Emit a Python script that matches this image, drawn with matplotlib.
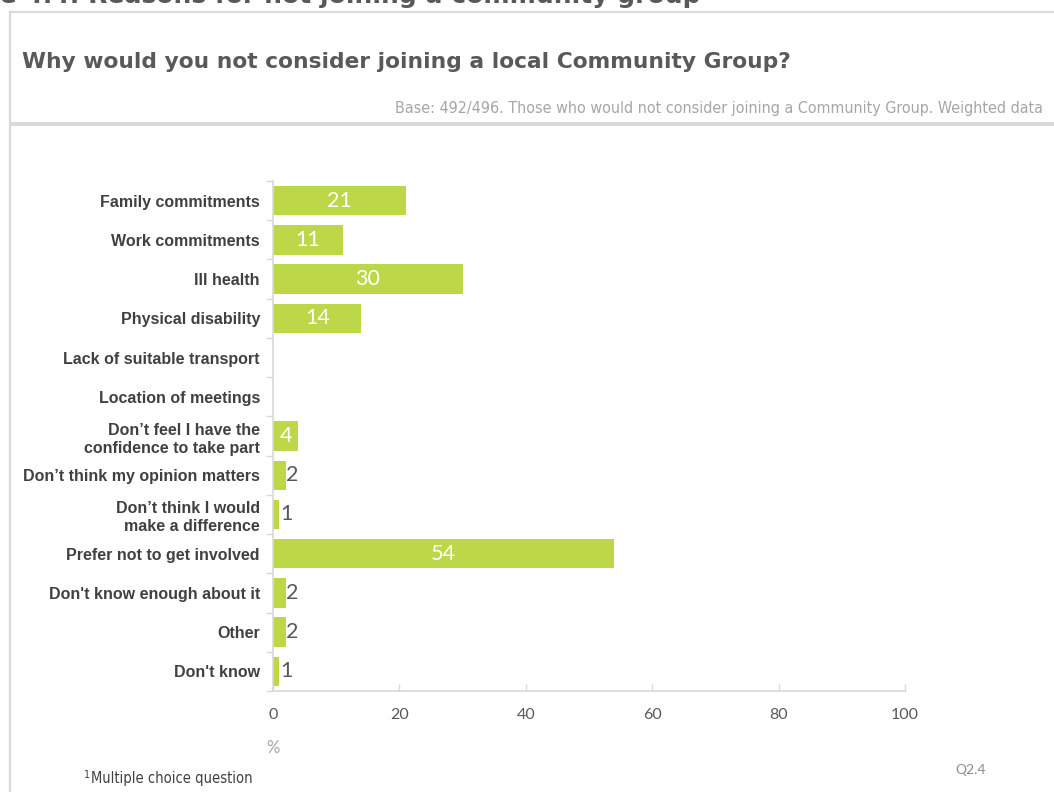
import matplotlib
matplotlib.use("Agg")
import matplotlib.pyplot as plt
from matplotlib.patches import Rectangle
from matplotlib.lines import Line2D

W, H = 1054, 792

categories = [
    "Family commitments",
    "Work commitments",
    "Ill health",
    "Physical disability",
    "Lack of suitable transport",
    "Location of meetings",
    "Don\u2019t feel I have the\nconfidence to take part",
    "Don\u2019t think my opinion matters",
    "Don\u2019t think I would\nmake a difference",
    "Prefer not to get involved",
    "Don't know enough about it",
    "Other",
    "Don't know",
]
values = [21, 11, 30, 14, None, None, 4, 2, 1, 54, 2, 2, 1]
x_ticks = [0, 20, 40, 60, 80, 100]

BAR = "#bcd748"
GRID = "#d9d9d9"


def fx(x):
    return x / W


def fy(y):
    return 1 - y / H


fig = plt.figure(figsize=(W / 100, H / 100), dpi=100)
fig.patch.set_facecolor("white")

# panel frame
fig.add_artist(Line2D([fx(10), fx(10)], [fy(12), fy(H + 5)], color=GRID, lw=1.6))
fig.add_artist(Line2D([fx(10), fx(W + 5)], [fy(12), fy(12)], color=GRID, lw=1.6))
fig.add_artist(Rectangle((fx(10), fy(126)), fx(W) - fx(10), fy(122) - fy(126),
                         facecolor=GRID, edgecolor="none"))

# figure caption running off the top edge
fig.text(fx(700), fy(3), "Figure 4.4: Reasons for not joining a community group",
         ha="right", va="baseline", fontsize=18, fontweight="bold",
         color="#595959", family="DejaVu Sans")

fig.text(fx(22), fy(62), "Why would you not consider joining a local Community Group?",
         ha="left", va="center", fontsize=15.7, fontweight="bold",
         color="#595959", family="DejaVu Sans")
fig.text(fx(1043), fy(109),
         "Base: 492/496. Those who would not consider joining a Community Group. Weighted data",
         ha="right", va="center", fontsize=11.5, color="#a6a6a6",
         family="DejaVu Sans", fontstretch="condensed")

ax = fig.add_axes([fx(273), fy(691), fx(905) - fx(273), fy(181) - fy(691)])
n = len(categories)
pos = list(range(n))
bar_vals = [v if v is not None else 0 for v in values]
ax.barh(pos, bar_vals, height=0.75, color=BAR, edgecolor="none")

for i, v in enumerate(values):
    if v is None:
        continue
    if v >= 4:
        ax.text(v / 2, i, str(v), ha="center", va="center", color="white",
                fontsize=15.5, family="Lato")
    else:
        ax.text(v + 0.1, i, str(v), ha="left", va="center", color="#595959",
                fontsize=15.5, family="Lato")

ax.set_xlim(0, 100)
ax.set_ylim(n - 0.5, -0.5)
ax.set_yticks(pos)
ax.set_yticklabels(categories, fontsize=11.5, fontweight="bold", color="#404040",
                   family="Liberation Sans", linespacing=1.25)
ax.set_yticks([i + 0.5 for i in range(-1, n)], minor=True)
ax.tick_params(axis="y", which="major", length=0, pad=9.4)
ax.tick_params(axis="y", which="minor", length=5, color=GRID, width=1)
ax.set_xticks(x_ticks)
ax.set_xticklabels([str(t) for t in x_ticks], fontsize=11.5, color="#595959", family="Lato")
ax.tick_params(axis="x", direction="in", length=5, color=GRID, width=1, pad=12)

for s in ["top", "right"]:
    ax.spines[s].set_visible(False)
for s in ["left", "bottom"]:
    ax.spines[s].set_color(GRID)
    ax.spines[s].set_linewidth(1.2)
ax.set_facecolor("white")

fig.text(fx(273), fy(748), "%", ha="center", va="center", fontsize=12,
         color="#a6a6a6", family="Lato")
fig.text(fx(83), fy(777), "$^1$", ha="left", va="center", fontsize=10, color="#404040")
fig.text(fx(91), fy(779), "Multiple choice question", ha="left", va="center",
         fontsize=10.5, color="#404040", family="DejaVu Sans", fontstretch="condensed")
fig.text(fx(971), fy(770), "Q2.4", ha="center", va="center", fontsize=10,
         color="#8c8c8c", family="Lato")

fig.savefig("out.png", dpi=100, facecolor="white")
